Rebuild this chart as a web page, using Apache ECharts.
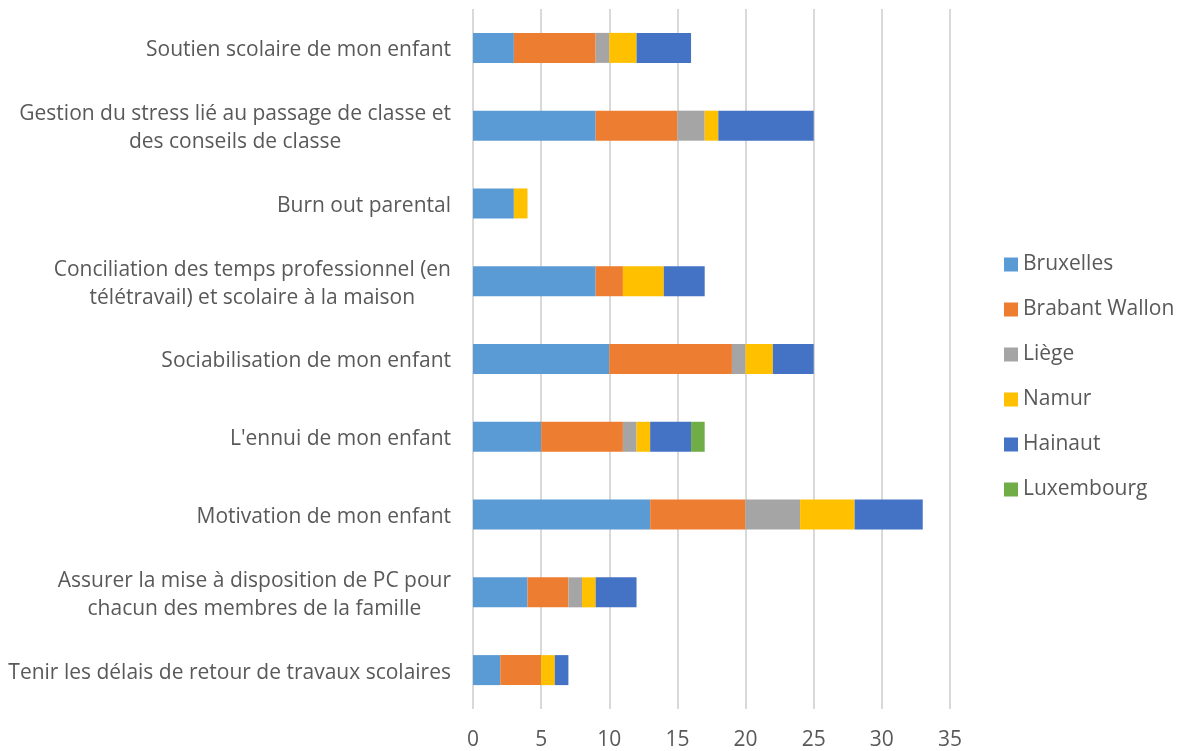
<!DOCTYPE html>
<html>
<head>
<meta charset="utf-8">
<script src="https://cdn.jsdelivr.net/npm/echarts@6/dist/echarts.min.js"></script>
<style>
  html, body { margin: 0; padding: 0; background: #fff; }
  #chart { width: 1184px; height: 751px; }
</style>
</head>
<body>
<div id="chart"></div>
<script>
// categories, top to bottom
const categories = [
  'Soutien scolaire de mon enfant',
  'Gestion du stress lié au passage de classe et\ndes conseils de classe',
  'Burn out parental',
  'Conciliation des temps professionnel (en\ntélétravail) et scolaire à la maison',
  'Sociabilisation de mon enfant',
  "L'ennui de mon enfant",
  'Motivation de mon enfant',
  'Assurer la mise à disposition de PC pour\nchacun des membres de la famille',
  'Tenir les délais de retour de travaux scolaires'
]

const bruxelles    = [3, 9, 3, 9, 10, 5, 13, 4, 2]
const brabantWallon = [6, 6, 0, 2, 9, 6, 7, 3, 3]
const liege        = [1, 2, 0, 0, 1, 1, 4, 1, 0]
const namur        = [2, 1, 1, 3, 2, 1, 4, 1, 1]
const hainaut      = [4, 7, 0, 3, 3, 3, 5, 3, 1]
const luxembourg   = [0, 0, 0, 0, 0, 1, 0, 0, 0]

const xTicks = [0, 5, 10, 15, 20, 25, 30, 35]

const seriesDefs = [
  { name: 'Bruxelles', data: bruxelles, color: '#5B9BD5' },
  { name: 'Brabant Wallon', data: brabantWallon, color: '#ED7D31' },
  { name: 'Liège', data: liege, color: '#A5A5A5' },
  { name: 'Namur', data: namur, color: '#FFC000' },
  { name: 'Hainaut', data: hainaut, color: '#4472C4' },
  { name: 'Luxembourg', data: luxembourg, color: '#70AD47' }
]

const chart = echarts.init(document.getElementById('chart'))
const font = '"Open Sans", Lato, sans-serif'
const fs = 21

const option = {
  animation: false,
  textStyle: { fontFamily: font },
  grid: {
    left: 473,
    right: 234,
    top: 9,
    bottom: 42
  },
  legend: {
    orient: 'vertical',
    left: 1004,
    top: 254,
    padding: 0,
    itemWidth: 14,
    itemHeight: 14,
    itemGap: 24,
    icon: 'rect',
    textStyle: { fontSize: fs, color: '#595959', fontFamily: font },
    data: seriesDefs.map(s => s.name)
  },
  xAxis: {
    type: 'value',
    min: xTicks[0],
    max: xTicks[xTicks.length - 1],
    interval: xTicks[1] - xTicks[0],
    axisLine: { show: false },
    axisTick: { show: false },
    splitLine: { lineStyle: { color: '#D9D9D9', width: 2 } },
    axisLabel: { fontSize: fs, color: '#595959', margin: 21, fontFamily: font }
  },
  yAxis: {
    type: 'category',
    inverse: true,
    data: categories,
    axisLine: { show: false },
    axisTick: { show: false },
    axisLabel: {
      margin: 22,
      lineHeight: 28,
      padding: [5, 0, 0, 0],
      formatter: v => v.split('\n').map(l => '{c|' + l + '}').join('\n'),
      rich: {
        c: { fontSize: fs, color: '#595959', align: 'center', lineHeight: 28, fontFamily: font }
      }
    }
  },
  series: seriesDefs.map(s => ({
    name: s.name,
    type: 'bar',
    stack: 'total',
    barWidth: 30,
    data: s.data,
    itemStyle: { color: s.color }
  }))
}

chart.setOption(option)
</script>
</body>
</html>
